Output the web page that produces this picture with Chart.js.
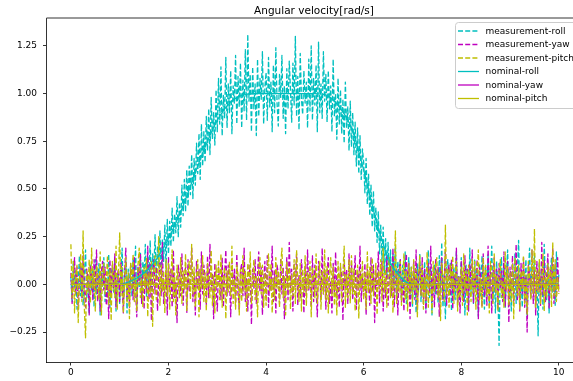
<!DOCTYPE html>
<html>
<head>
<meta charset="utf-8">
<script src="https://cdn.jsdelivr.net/npm/chart.js@4/dist/chart.umd.min.js"></script>
<style>
  html, body { margin: 0; padding: 0; background: #fff; }
  #wrap { width: 573px; height: 381px; }
</style>
</head>
<body>
<div id="wrap"><canvas id="c"></canvas></div>
<script>
const chartTitle = 'Angular velocity[rad/s]';
const seriesNames = ['measurement-roll', 'measurement-yaw', 'measurement-pitch',
                     'nominal-roll', 'nominal-yaw', 'nominal-pitch'];

// sample spacing of the two kinds of series [s]
const measDt = 0.025;
const nomDt = 0.25;

// measured angular velocity, one value every measDt from t = 0 to 10 (10 per row = 0.25 s)
const measRoll = [
  0.04, -0.09, 0.12, -0.02, 0.07, -0.13, 0.01, 0.15, -0.06, 0.09,
  -0.11, 0.03, 0.18, -0.07, 0.05, -0.15, 0.10, -0.03, 0.08, -0.12,
  0.13, -0.05, 0.02, 0.11, -0.16, 0.06, -0.01, 0.14, -0.09, 0.04,
  -0.07, 0.16, -0.12, 0.05, 0.09, -0.04, 0.12, -0.14, 0.03, 0.07,
  -0.10, 0.06, 0.19, -0.08, 0.02, 0.13, -0.15, 0.08, -0.03, 0.11,
  -0.06, 0.14, 0.01, 0.20, -0.11, 0.09, -0.02, 0.17, -0.08, 0.12,
  0.04, 0.21, -0.07, 0.15, 0.02, 0.23, -0.04, 0.16, 0.07, 0.26,
  0.02, 0.20, 0.09, 0.28, 0.05, 0.24, 0.12, 0.31, 0.08, 0.34,
  0.16, 0.33, 0.20, 0.40, 0.22, 0.37, 0.27, 0.46, 0.25, 0.43,
  0.30, 0.52, 0.36, 0.55, 0.38, 0.60, 0.41, 0.62, 0.47, 0.68,
  0.45, 0.66, 0.52, 0.74, 0.58, 0.79, 0.55, 0.84, 0.62, 0.80,
  0.64, 0.88, 0.70, 0.92, 0.68, 0.98, 0.76, 0.90, 0.73, 1.02,
  0.80, 1.08, 0.84, 1.14, 0.78, 0.99, 0.87, 1.19, 0.82, 1.05,
  0.90, 1.12, 0.79, 1.04, 0.95, 1.20, 0.84, 1.09, 0.93, 1.16,
  0.82, 1.07, 0.91, 1.23, 0.86, 1.31, 0.96, 1.10, 0.80, 1.14,
  0.92, 1.05, 0.78, 1.18, 0.88, 1.08, 0.97, 1.22, 0.84, 1.03,
  1.11, 0.86, 1.19, 0.93, 1.06, 0.80, 1.15, 0.90, 1.24, 0.95,
  0.83, 1.10, 0.98, 1.20, 0.87, 1.04, 0.79, 1.13, 0.92, 1.17,
  1.02, 0.85, 1.16, 0.94, 1.30, 0.88, 1.09, 0.81, 1.21, 0.97,
  0.89, 1.12, 0.95, 1.06, 0.82, 1.18, 0.91, 1.25, 0.86, 1.08,
  0.94, 1.15, 0.80, 1.27, 0.90, 1.05, 0.87, 1.22, 0.96, 1.10,
  0.85, 1.12, 0.92, 1.04, 0.80, 1.18, 0.88, 1.00, 0.76, 1.08,
  0.84, 1.02, 0.79, 0.97, 0.74, 1.06, 0.82, 0.93, 0.70, 0.96,
  0.72, 0.90, 0.68, 0.85, 0.62, 0.82, 0.58, 0.78, 0.55, 0.71,
  0.64, 0.48, 0.66, 0.42, 0.58, 0.36, 0.52, 0.30, 0.49, 0.28,
  0.40, 0.22, 0.38, 0.16, 0.31, 0.12, 0.30, 0.06, 0.24, 0.04,
  0.22, 0.02, 0.18, -0.04, 0.16, 0.00, 0.20, -0.07, 0.12, 0.03,
  0.13, -0.08, 0.10, -0.03, 0.17, -0.10, 0.06, 0.14, -0.05, 0.09,
  -0.12, 0.07, 0.02, -0.15, 0.11, -0.04, 0.16, -0.09, 0.05, -0.02,
  0.12, -0.13, 0.04, 0.18, -0.07, 0.09, -0.16, 0.03, 0.10, -0.05,
  0.07, -0.10, 0.15, -0.03, 0.22, -0.12, 0.05, -0.18, 0.08, 0.13,
  -0.06, 0.11, -0.14, 0.02, 0.09, -0.08, 0.17, -0.11, 0.04, -0.02,
  0.14, -0.07, 0.03, -0.16, 0.10, 0.05, -0.12, 0.19, -0.04, 0.08,
  -0.10, 0.13, -0.02, 0.07, -0.17, 0.11, -0.06, 0.15, 0.01, -0.13,
  0.09, -0.04, 0.16, -0.11, 0.04, 0.20, -0.09, 0.06, -0.15, 0.12,
  -0.03, -0.32, 0.08, 0.14, -0.07, 0.10, -0.12, 0.05, 0.18, -0.06,
  0.02, -0.14, 0.11, -0.05, 0.16, -0.10, 0.07, 0.23, -0.08, 0.04,
  -0.12, 0.09, -0.03, 0.13, -0.17, 0.06, 0.19, -0.07, 0.10, -0.02,
  0.15, -0.09, 0.04, -0.27, 0.12, -0.05, 0.08, -0.13, 0.21, 0.03,
  -0.08, 0.11, -0.15, 0.06, 0.14, -0.04, 0.09, -0.11, 0.17, -0.02,
  0.05
];
const measYaw = [
  0.06, -0.10, 0.03, 0.14, -0.05, 0.09, -0.13, 0.02, 0.11, -0.07,
  0.15, -0.02, -0.12, 0.08, 0.01, -0.16, 0.10, 0.04, -0.08, 0.13,
  -0.04, 0.18, -0.09, 0.05, -0.14, 0.07, 0.12, -0.03, 0.09, -0.11,
  0.02, -0.18, 0.13, -0.06, 0.10, -0.02, 0.16, -0.12, 0.04, 0.08,
  -0.09, 0.12, -0.01, -0.15, 0.06, 0.19, -0.07, 0.03, -0.12, 0.10,
  0.05, -0.08, 0.14, -0.03, -0.17, 0.09, 0.02, 0.16, -0.10, 0.06,
  -0.13, 0.07, -0.04, 0.20, -0.08, 0.11, -0.19, 0.04, 0.13, -0.05,
  0.09, -0.14, 0.03, 0.12, -0.06, 0.22, -0.10, -0.02, 0.07, -0.16,
  0.14, -0.03, 0.08, -0.12, 0.18, -0.07, 0.01, -0.20, 0.10, 0.05,
  -0.06, 0.16, -0.11, 0.04, 0.09, -0.15, 0.13, -0.04, 0.02, 0.19,
  -0.09, 0.06, -0.16, 0.12, -0.02, 0.08, -0.13, 0.17, -0.05, 0.10,
  0.03, -0.11, 0.15, -0.07, 0.21, -0.03, 0.06, -0.18, 0.11, -0.01,
  -0.14, 0.09, 0.02, -0.08, 0.14, -0.12, 0.05, 0.18, -0.06, 0.10,
  0.04, -0.17, 0.12, -0.03, 0.08, -0.10, 0.16, -0.05, -0.13, 0.07,
  0.11, -0.06, 0.19, -0.09, 0.03, -0.14, 0.10, 0.05, -0.21, 0.08,
  -0.02, 0.13, -0.10, 0.06, 0.17, -0.04, 0.09, -0.16, 0.02, 0.12,
  -0.07, 0.15, -0.12, 0.04, -0.03, 0.20, -0.09, 0.07, -0.15, 0.10,
  0.06, -0.10, 0.13, -0.05, 0.09, -0.18, 0.02, 0.14, -0.08, 0.22,
  -0.04, 0.08, -0.14, 0.11, -0.01, 0.16, -0.11, 0.05, -0.07, 0.13,
  0.03, -0.15, 0.09, -0.06, 0.18, -0.03, 0.07, -0.12, 0.15, -0.09,
  0.10, -0.02, -0.17, 0.12, 0.04, -0.08, 0.19, -0.05, 0.08, -0.13,
  0.06, 0.14, -0.10, 0.02, -0.15, 0.11, -0.04, 0.17, -0.07, 0.03,
  -0.12, 0.09, 0.05, -0.19, 0.13, -0.02, 0.08, -0.10, 0.16, -0.05,
  0.12, -0.08, 0.02, 0.15, -0.13, 0.07, -0.03, 0.20, -0.09, 0.04,
  -0.06, 0.11, -0.16, 0.08, 0.01, -0.11, 0.14, -0.04, 0.10, -0.20,
  0.07, -0.03, 0.17, -0.10, 0.05, 0.12, -0.14, 0.03, -0.07, 0.15,
  -0.11, 0.04, 0.10, -0.06, 0.19, -0.12, 0.02, 0.08, -0.16, 0.06,
  0.13, -0.09, 0.03, -0.14, 0.09, 0.16, -0.05, 0.11, -0.18, 0.04,
  -0.03, 0.12, -0.08, 0.18, -0.13, 0.05, 0.10, -0.06, 0.14, -0.10,
  0.08, -0.15, 0.02, 0.11, -0.04, 0.20, -0.09, 0.06, -0.12, 0.13,
  -0.05, 0.09, -0.17, 0.04, 0.14, -0.08, 0.03, 0.17, -0.11, 0.07,
  0.10, -0.06, 0.13, -0.13, 0.05, -0.02, 0.19, -0.10, 0.04, -0.15,
  0.12, 0.02, -0.09, 0.15, -0.05, 0.08, -0.14, 0.11, -0.02, 0.18,
  -0.10, 0.06, -0.03, 0.13, -0.18, 0.09, 0.04, -0.12, 0.16, -0.06,
  0.03, -0.11, 0.20, -0.07, 0.10, -0.15, 0.05, 0.14, -0.04, 0.08,
  -0.13, 0.11, -0.02, 0.07, -0.09, 0.17, -0.12, 0.03, 0.12, -0.20,
  0.09, -0.04, 0.15, -0.10, 0.02, 0.21, -0.08, 0.06, -0.14, 0.11,
  -0.05, 0.14, -0.12, 0.04, -0.25, 0.10, 0.05, -0.07, 0.18, -0.10,
  0.07, -0.16, 0.12, -0.03, 0.09, -0.11, 0.22, -0.06, 0.13, -0.09,
  0.04, 0.16, -0.13, 0.08, -0.02, 0.19, -0.10, 0.11, -0.07, 0.14,
  -0.04
];
const measPitch = [
  0.21, -0.07, 0.12, -0.15, 0.05, 0.10, -0.20, 0.03, 0.16, -0.09,
  0.28, -0.12, -0.28, 0.07, -0.04, 0.13, -0.10, 0.19, -0.02, 0.08,
  -0.14, 0.10, 0.04, -0.08, 0.17, -0.16, 0.06, 0.11, -0.05, 0.02,
  0.15, -0.11, 0.08, -0.19, 0.12, 0.03, -0.07, 0.20, -0.13, 0.05,
  0.27, -0.06, 0.09, -0.15, 0.02, 0.14, -0.10, 0.06, -0.18, 0.11,
  -0.03, 0.16, -0.09, 0.04, -0.14, 0.10, 0.19, -0.07, 0.03, -0.12,
  0.09, -0.02, 0.14, -0.17, 0.06, -0.05, 0.12, -0.22, 0.08, 0.15,
  -0.08, 0.04, 0.25, -0.11, 0.10, -0.04, 0.07, -0.15, 0.13, -0.06,
  0.11, -0.13, 0.03, 0.18, -0.09, 0.06, -0.16, 0.10, 0.02, -0.07,
  0.14, -0.10, 0.07, -0.03, 0.16, -0.14, 0.05, 0.12, -0.08, 0.21,
  -0.05, 0.09, -0.12, 0.04, 0.13, -0.17, 0.08, -0.02, 0.15, -0.09,
  0.06, -0.14, 0.11, 0.02, -0.07, 0.18, -0.11, 0.05, -0.15, 0.10,
  -0.02, 0.13, -0.08, 0.16, -0.12, 0.04, 0.09, -0.18, 0.07, -0.04,
  0.12, -0.06, 0.20, -0.10, 0.03, -0.13, 0.10, 0.05, -0.16, 0.08,
  -0.09, 0.15, -0.03, 0.07, -0.14, 0.11, -0.06, 0.17, -0.10, 0.02,
  0.13, -0.08, 0.04, -0.17, 0.09, 0.14, -0.05, 0.10, -0.12, 0.06,
  -0.11, 0.08, 0.16, -0.04, 0.11, -0.15, 0.03, -0.08, 0.14, -0.02,
  0.07, -0.12, 0.10, 0.19, -0.07, 0.04, -0.16, 0.12, -0.03, 0.09,
  -0.13, 0.05, -0.06, 0.13, -0.10, 0.18, 0.02, -0.09, 0.11, -0.14,
  0.08, -0.04, 0.15, -0.11, 0.06, -0.02, 0.12, -0.17, 0.09, 0.04,
  -0.07, 0.16, -0.10, 0.03, 0.12, -0.13, 0.07, -0.05, 0.18, -0.08,
  0.10, -0.15, 0.04, 0.14, -0.06, 0.09, -0.11, 0.02, -0.16, 0.12,
  -0.03, 0.11, -0.09, 0.06, 0.20, -0.12, 0.05, -0.07, 0.13, -0.10,
  0.15, -0.05, 0.08, -0.14, 0.03, 0.10, -0.18, 0.07, -0.02, 0.12,
  -0.08, 0.06, -0.13, 0.17, -0.04, 0.09, -0.10, 0.14, -0.06, 0.03,
  0.11, -0.16, 0.07, -0.02, 0.13, -0.09, 0.19, -0.04, 0.08, -0.12,
  0.05, 0.14, -0.07, 0.10, -0.15, 0.03, 0.28, -0.10, 0.06, -0.04,
  0.12, -0.11, 0.02, 0.16, -0.08, 0.07, -0.14, 0.11, -0.05, 0.09,
  -0.10, 0.13, -0.03, 0.08, -0.17, 0.05, 0.15, -0.06, 0.10, -0.13,
  0.04, -0.08, 0.17, -0.12, 0.07, 0.02, -0.15, 0.12, -0.04, 0.10,
  0.14, -0.07, 0.06, -0.19, 0.11, 0.03, -0.09, 0.31, -0.05, 0.08,
  -0.12, 0.10, -0.02, 0.15, -0.10, 0.05, 0.12, -0.14, 0.04, -0.07,
  0.09, -0.11, 0.16, -0.03, 0.07, -0.16, 0.10, 0.02, -0.09, 0.13,
  -0.05, 0.12, -0.13, 0.06, 0.18, -0.08, 0.03, -0.12, 0.14, -0.02,
  0.10, -0.06, 0.04, -0.15, 0.12, 0.07, -0.10, 0.16, -0.04, 0.05,
  -0.14, 0.08, 0.13, -0.07, 0.02, -0.12, 0.17, -0.03, 0.09, -0.11,
  0.06, -0.09, 0.11, -0.18, 0.14, 0.04, -0.06, 0.10, -0.13, 0.07,
  -0.02, 0.15, -0.10, 0.05, -0.16, 0.12, 0.03, -0.08, 0.18, -0.05,
  0.29, -0.12, 0.07, -0.04, 0.13, -0.10, 0.02, 0.16, -0.14, 0.06,
  -0.07, 0.11, -0.03, 0.09, -0.12, 0.22, -0.06, 0.13, -0.09, 0.04,
  -0.05
];

// nominal angular velocity, one value every nomDt from t = 0 to 10
const nomRoll = [
  0, 0, 0, 0, 0, 0.02, 0.06, 0.13, 0.24, 0.38,
  0.55, 0.72, 0.86, 0.95, 0.99, 1.0, 1.0, 1.0, 1.0, 1.0,
  1.0, 0.99, 0.93, 0.82, 0.60, 0.34, 0.14, 0.04, 0, 0,
  0, 0, 0, 0, 0, 0, 0, 0, 0, 0,
  0
];
const nomYaw = [
  0, 0, 0, 0, 0, 0, 0, 0, 0, 0,
  0, 0, 0, 0, 0, 0, 0, 0, 0, 0,
  0, 0, 0, 0, 0, 0, 0, 0, 0, 0,
  0, 0, 0, 0, 0, 0, 0, 0, 0, 0,
  0
];
const nomPitch = [
  0, 0, 0, 0, 0, 0, 0, 0, 0, 0,
  0, 0, 0, 0, 0, 0, 0, 0, 0, 0,
  0, 0, 0, 0, 0, 0, 0, 0, 0, 0,
  0, 0, 0, 0, 0, 0, 0, 0, 0, 0,
  0
];

const xTicks = [0, 2, 4, 6, 8, 10];
const yTicks = [-0.25, 0, 0.25, 0.5, 0.75, 1.0, 1.25];

const CYAN = '#00bfbf', MAGENTA = '#bf00bf', OLIVE = '#bfbf00';
const colors = [CYAN, MAGENTA, OLIVE, CYAN, MAGENTA, OLIVE];
const values = [measRoll, measYaw, measPitch, nomRoll, nomYaw, nomPitch];
const FONT = '"DejaVu Sans", sans-serif';

function toPoints(arr, dt) {
  return arr.map((v, i) => ({ x: i * dt, y: v }));
}

const datasets = values.map((arr, i) => {
  const measured = i < 3;
  return {
    label: seriesNames[i],
    data: toPoints(arr, measured ? measDt : nomDt),
    borderColor: colors[i],
    borderWidth: 1.3,
    borderDash: measured ? [5, 2.2] : [],
    borderJoinStyle: 'round',
    pointRadius: 0,
    fill: false,
    cubicInterpolationMode: measured ? 'default' : 'monotone',
    // matplotlib draws later series on top
    order: values.length - i
  };
});

// title, top spine and matplotlib-like legend
const decor = {
  id: 'decor',
  afterDraw(chart) {
    const ctx = chart.ctx;
    const a = chart.chartArea;
    ctx.save();

    ctx.strokeStyle = '#000';
    ctx.lineWidth = 0.8;
    ctx.beginPath();
    ctx.moveTo(a.left, a.top);
    ctx.lineTo(a.right, a.top);
    ctx.stroke();

    ctx.fillStyle = '#000';
    ctx.font = '10.5px ' + FONT;
    ctx.textAlign = 'center';
    ctx.textBaseline = 'alphabetic';
    ctx.fillText(chartTitle, 314, 13.5);

    // legend
    ctx.fillStyle = 'rgba(255,255,255,0.8)';
    ctx.strokeStyle = '#cccccc';
    ctx.lineWidth = 1;
    ctx.beginPath();
    ctx.roundRect(455.5, 22.5, 130, 86, 3);
    ctx.fill();
    ctx.stroke();

    ctx.font = '9px ' + FONT;
    ctx.textAlign = 'left';
    ctx.textBaseline = 'middle';
    chart.data.datasets.forEach((ds, i) => {
      const y = 31 + i * 13.5;
      ctx.strokeStyle = ds.borderColor;
      ctx.lineWidth = ds.borderWidth;
      ctx.setLineDash(ds.borderDash);
      ctx.beginPath();
      ctx.moveTo(458, y);
      ctx.lineTo(479, y);
      ctx.stroke();
      ctx.setLineDash([]);
      ctx.fillStyle = '#000';
      ctx.fillText(ds.label, 485.5, y + 0.5);
    });
    ctx.restore();
  }
};

new Chart(document.getElementById('c'), {
  type: 'line',
  data: { datasets: datasets },
  options: {
    animation: false,
    responsive: true,
    maintainAspectRatio: false,
    layout: { padding: { top: 18, right: 0, left: 0, bottom: 0 } },
    plugins: {
      legend: { display: false },
      title: { display: false },
      tooltip: { enabled: false }
    },
    scales: {
      x: {
        type: 'linear',
        min: -0.5,
        max: 10.29,
        afterFit: s => { s.height = 19; },
        afterBuildTicks: s => { s.ticks = xTicks.map(v => ({ value: v })); },
        grid: { drawOnChartArea: false, drawTicks: true, tickLength: 3.5, color: '#000', lineWidth: 0.8 },
        border: { display: true, color: '#000', width: 0.8 },
        ticks: {
          color: '#000',
          padding: 1.5,
          maxRotation: 0,
          autoSkip: false,
          font: { family: FONT, size: 9 },
          callback: v => String(v)
        }
      },
      y: {
        type: 'linear',
        min: -0.407,
        max: 1.396,
        afterFit: s => { s.width = 46.5; },
        afterBuildTicks: s => { s.ticks = yTicks.map(v => ({ value: v })); },
        grid: { drawOnChartArea: false, drawTicks: true, tickLength: 3.5, color: '#000', lineWidth: 0.8 },
        border: { display: true, color: '#000', width: 0.8 },
        ticks: {
          color: '#000',
          padding: 6,
          autoSkip: false,
          font: { family: FONT, size: 9 },
          callback: v => (v < 0 ? '\u2212' : '') + Math.abs(v).toFixed(2)
        }
      }
    }
  },
  plugins: [decor]
});
</script>
</body>
</html>
